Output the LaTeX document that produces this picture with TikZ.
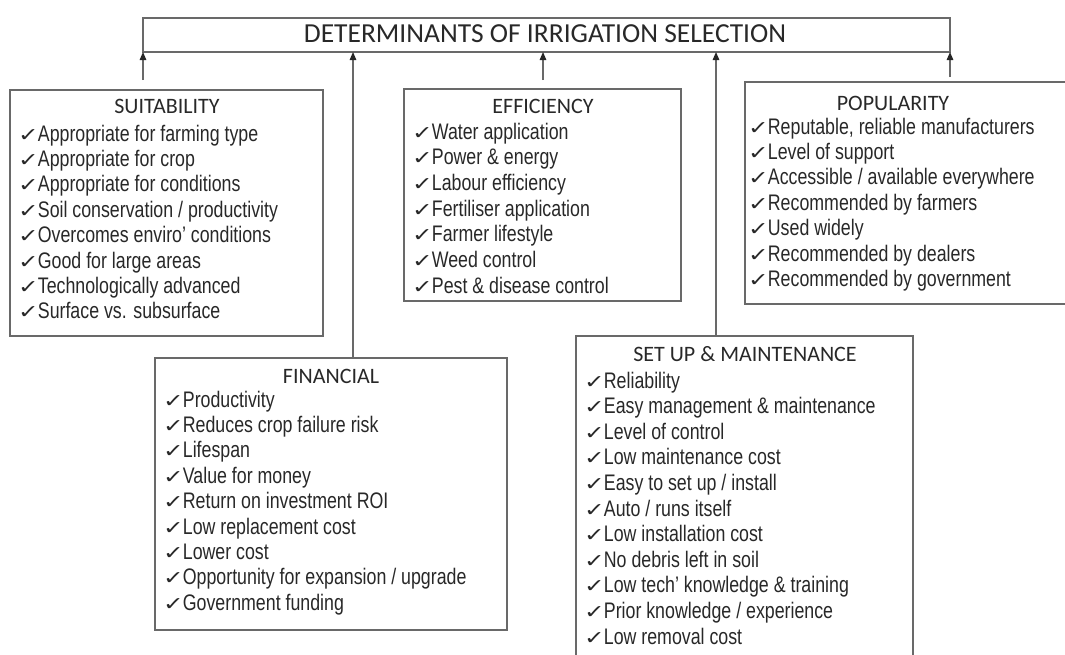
\documentclass[tikz,border=0pt]{standalone}
\usepackage{fontspec}
\setmainfont{Carlito}
\newfontfamily\itemfont[FakeStretch=0.79]{Liberation Sans}
\newfontfamily\chkfont{DejaVu Sans}
\usetikzlibrary{arrows.meta}
\definecolor{txt}{RGB}{40,40,40}
\definecolor{linegray}{RGB}{105,105,105}
\newcommand{\chk}{{\chkfont\fontsize{19}{19}\selectfont\scalebox{1.3}[1]{✓}}\hspace{-1pt}}
\tikzset{
  x=1pt, y=-1pt,
  box/.style={draw=linegray, line width=1.3pt, anchor=north west, inner sep=0pt, outer sep=0pt},
  head/.style={anchor=base, font=\fontsize{22}{26}\selectfont, text=txt, inner sep=0pt},
  item/.style={anchor=base west, font=\itemfont\fontsize{22.5}{25}\selectfont, text=txt, inner sep=0pt},
  conn/.style={draw=linegray, line width=1.3pt, -{Triangle[length=8pt,width=6.5pt,color=black!85]}},
}
\begin{document}
\begin{tikzpicture}
\useasboundingbox (0,0) rectangle (1065,654);
% top box
\node[box, minimum width=807, minimum height=34] (top) at (143,18) {};
\node[anchor=base, font=\fontsize{27.5}{30}\selectfont, text=txt, inner sep=0pt] (title) at (545,42) {DETERMINANTS OF IRRIGATION SELECTION};
% boxes
\node[box, minimum width=313, minimum height=246] (suit) at (10,90) {};
\node[box, minimum width=352, minimum height=272] (fin) at (155,358) {};
\node[box, minimum width=277, minimum height=212] (eff) at (404,89) {};
\node[box, minimum width=330, minimum height=222] (pop) at (745,82) {};
\node[box, minimum width=337, minimum height=340] (setup) at (576,336) {};
% headers
\node[head] (suith) at (167,113) {SUITABILITY};
\node[head] (finh) at (331,383) {FINANCIAL};
\node[head] (effh) at (543,113) {EFFICIENCY};
\node[head] (poph) at (893,110) {POPULARITY};
\node[head] (setuph) at (745,361) {SET UP \& MAINTENANCE};
% items
\foreach \t [count=\i from 0] in {Appropriate for farming type, Appropriate for crop, Appropriate for conditions, Soil conservation / productivity, Overcomes enviro’ conditions, Good for large areas, Technologically advanced, Surface vs. subsurface}
  \node[item] (suit\i) at (18,141+25.4*\i) {\chk\t};
\foreach \t [count=\i from 0] in {Productivity, Reduces crop failure risk, Lifespan, Value for money, Return on investment ROI, Low replacement cost, Lower cost, Opportunity for expansion / upgrade, Government funding}
  \node[item] (fin\i) at (163,407+25.4*\i) {\chk\t};
\foreach \t [count=\i from 0] in {Water application, Power \& energy, Labour efficiency, Fertiliser application, Farmer lifestyle, Weed control, Pest \& disease control}
  \node[item] (eff\i) at (412,139+25.7*\i) {\chk\t};
\foreach \t [count=\i from 0] in {{Reputable, reliable manufacturers}, Level of support, Accessible / available everywhere, Recommended by farmers, Used widely, Recommended by dealers, Recommended by government}
  \node[item] (pop\i) at (748,134+25.4*\i) {\chk\t};
\foreach \t [count=\i from 0] in {Reliability, Easy management \& maintenance, Level of control, Low maintenance cost, Easy to set up / install, Auto / runs itself, Low installation cost, No debris left in soil, Low tech’ knowledge \& training, Prior knowledge / experience, Low removal cost}
  \node[item] (setup\i) at (584,388+25.6*\i) {\chk\t};
% connectors
\coordinate (a1) at (143,80);
\coordinate (a2) at (353,358);
\coordinate (a3) at (543,80);
\coordinate (a4) at (716,336);
\coordinate (a5) at (950,77);
\foreach \a in {a1,a2,a3,a4,a5}
  \draw[conn] (\a) -- (\a |- top.south);
\end{tikzpicture}
\end{document}
